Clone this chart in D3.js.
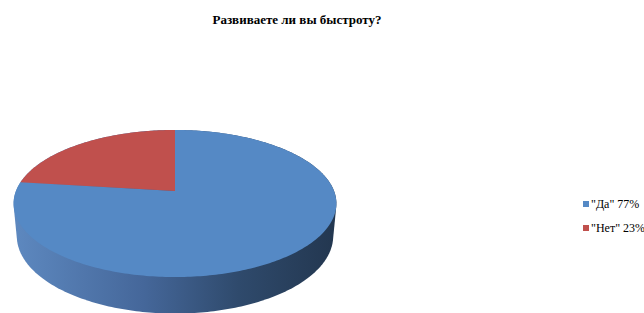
<!DOCTYPE html>
<html>
<head>
<meta charset="utf-8">
<script src="https://cdn.jsdelivr.net/npm/d3@7"></script>
<style>
  body { margin: 0; background: #fff; }
  svg { display: block; }
</style>
</head>
<body>
<div id="grafico"></div>
<script>
const titulo = "Развиваете ли вы быстроту?";
const categorias = ["Да", "Нет"];
const valores = [77, 23];
const etiquetas = ['"Да" 77%', '"Нет" 23%'];
const colores = ["#5589c5", "#c0504d"];

const ancho = 644, alto = 313;
const fuente = "'Liberation Serif'";

// perspectiva del pastel 3D
const centroX = 175, centroY = 191;
const focal = 835, distancia = 5.25;
const elev = Math.asin(0.449);
const sinE = Math.sin(elev), cosE = Math.cos(elev);
const grosor = 0.23;

const proyectar = (theta, h) => {
    const X = Math.sin(theta), Z = Math.cos(theta);
    const yCam = Z * sinE - h * cosE;
    const prof = distancia + Z * cosE + h * sinE;
    return [centroX + focal * X / prof, centroY - focal * yCam / prof];
};

const svg = d3.select("#grafico")
    .append("svg")
    .attr("width", ancho)
    .attr("height", alto);

const defs = svg.append("defs");
const grad = defs.append("linearGradient")
    .attr("id", "lado")
    .attr("gradientUnits", "userSpaceOnUse")
    .attr("x1", 16).attr("y1", 0)
    .attr("x2", 334).attr("y2", 0);
[[0, "#5d88bf"], [0.4, "#45679a"], [0.7, "#2f4a6c"], [1, "#233750"]].forEach(([o, c]) => {
    grad.append("stop").attr("offset", o).attr("stop-color", c);
});

// lateral: envolvente de los bordes superior e inferior
const puntos = [];
for (let i = 0; i <= 360; i++) {
    const t = i * Math.PI / 180;
    puntos.push(proyectar(t, 0));
    puntos.push(proyectar(t, grosor));
}
const envolvente = d3.polygonHull(puntos);
svg.append("path")
    .attr("d", "M" + envolvente.join("L") + "Z")
    .attr("fill", "url(#lado)");

// cara superior
const pie = d3.pie().sort(null);
const arcos = pie(valores);
const linea = d3.line();

svg.append("g")
    .selectAll("path")
    .data(arcos)
    .join("path")
    .attr("d", d => {
        const pts = [[centroX, centroY]];
        const pasos = Math.max(4, Math.ceil((d.endAngle - d.startAngle) * 60));
        for (let i = 0; i <= pasos; i++) {
            const t = d.startAngle + (d.endAngle - d.startAngle) * i / pasos;
            pts.push(proyectar(t, 0));
        }
        return linea(pts) + "Z";
    })
    .attr("fill", (d, i) => colores[i]);

// titulo
svg.append("text")
    .attr("x", 297)
    .attr("y", 24)
    .attr("text-anchor", "middle")
    .style("font-family", fuente)
    .attr("font-weight", "bold")
    .attr("font-size", 13)
    .attr("fill", "#000")
    .text(titulo);

// leyenda
const leyenda = svg.append("g")
    .selectAll("g")
    .data(categorias)
    .join("g")
    .attr("transform", (d, i) => `translate(583,${204 + i * 24})`);

leyenda.append("rect")
    .attr("x", 0)
    .attr("y", -3)
    .attr("width", 6)
    .attr("height", 6)
    .attr("fill", (d, i) => colores[i]);

leyenda.append("text")
    .attr("x", 8)
    .attr("y", 4)
    .style("font-family", fuente)
    .attr("font-size", 12)
    .attr("fill", "#000")
    .text((d, i) => etiquetas[i]);
</script>
</body>
</html>
